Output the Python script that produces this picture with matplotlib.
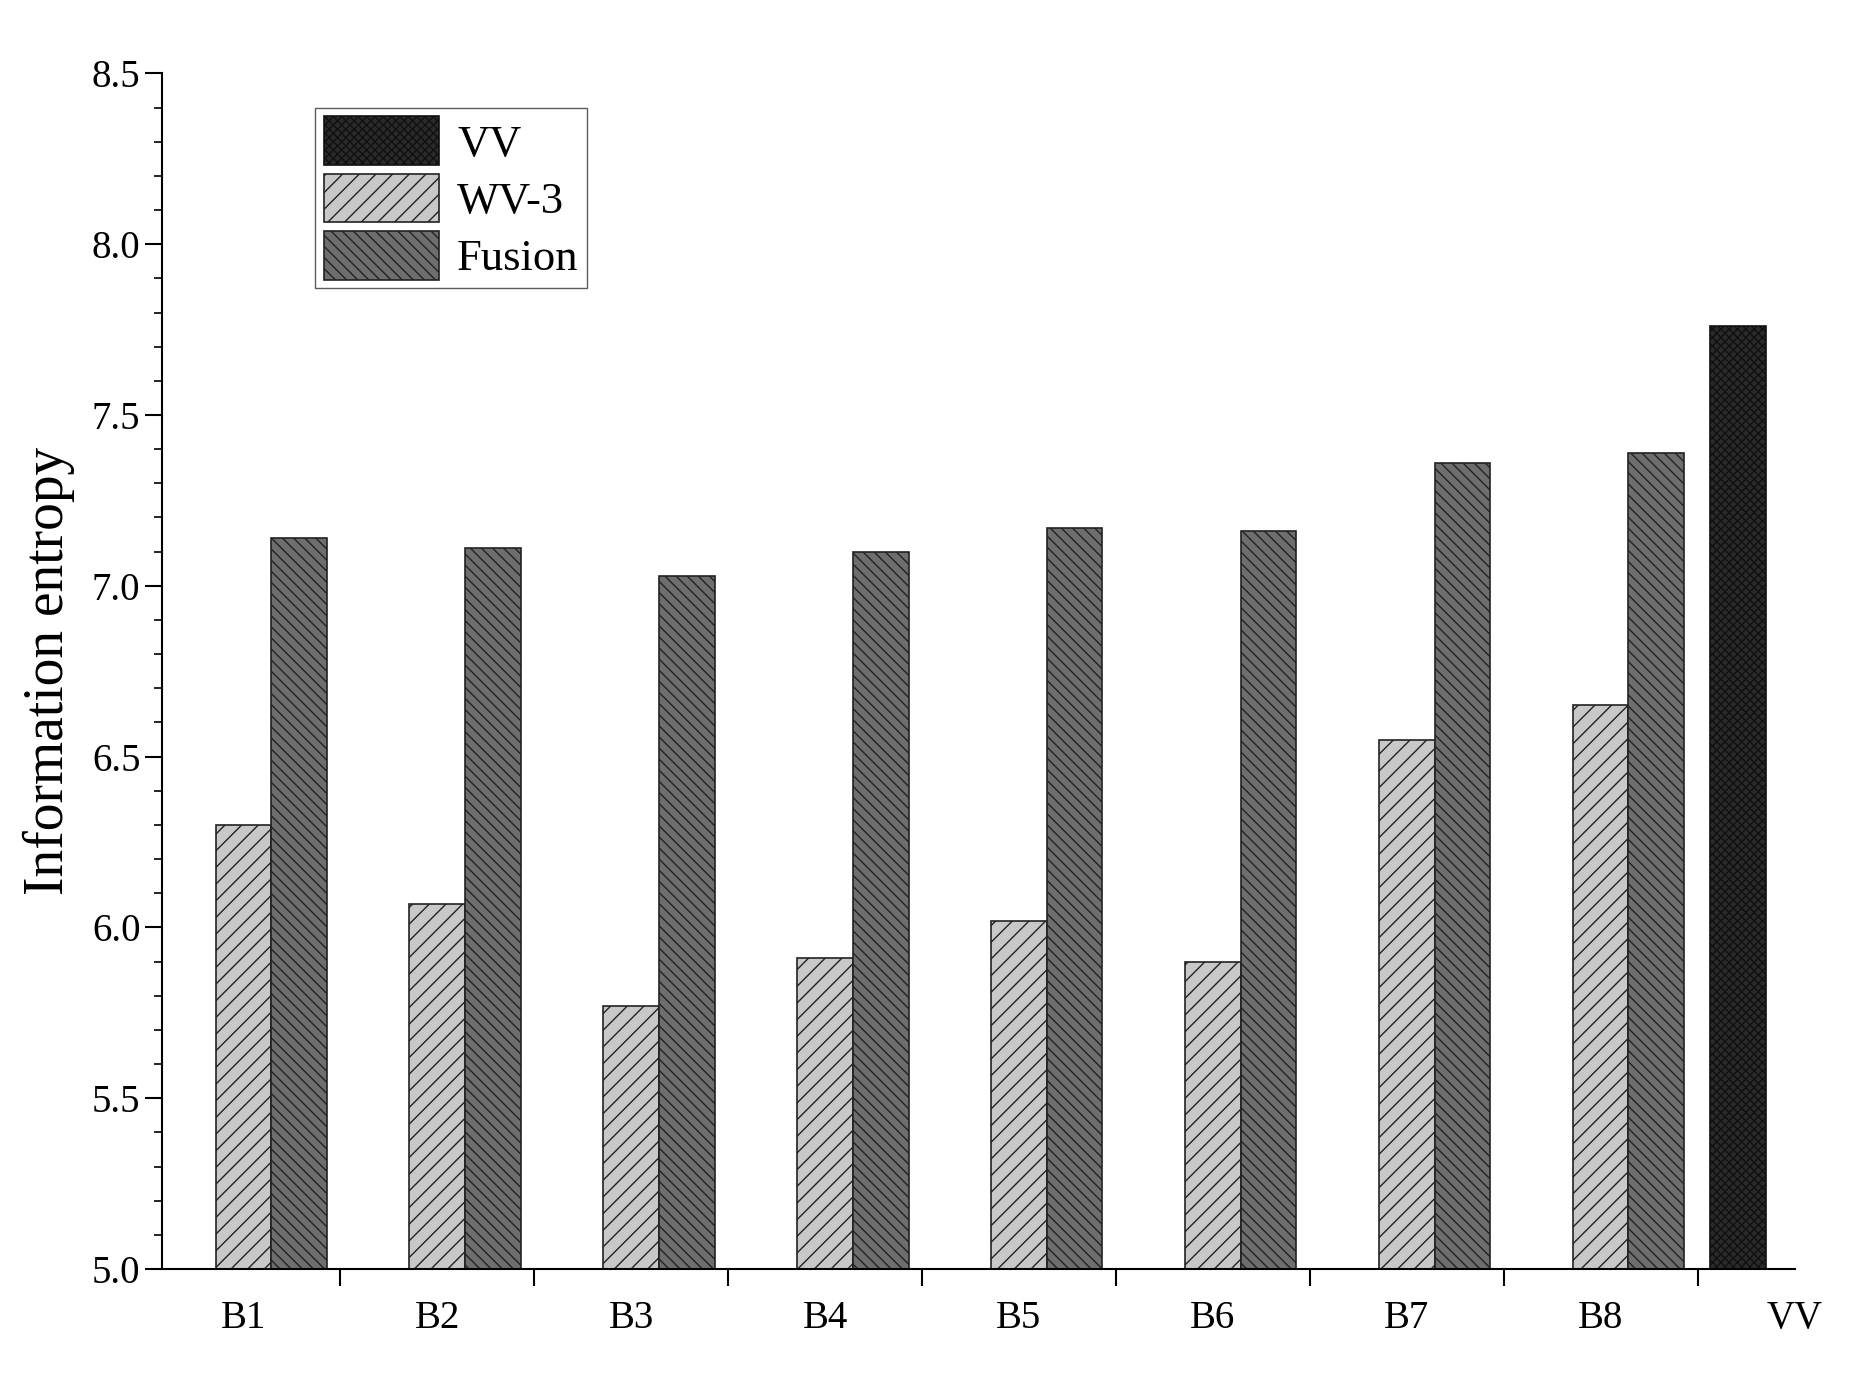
import matplotlib
matplotlib.use("Agg")
import matplotlib.pyplot as plt
import numpy as np

categories = ["B1","B2","B3","B4","B5","B6","B7","B8","VV"]
wv3 = [6.30, 6.07, 5.77, 5.91, 6.02, 5.90, 6.55, 6.65]
fusion = [7.14, 7.11, 7.03, 7.10, 7.17, 7.16, 7.36, 7.39]
vv = [7.76]

plt.rcParams['font.family'] = ['Liberation Serif', 'DejaVu Serif']
plt.rcParams['hatch.linewidth'] = 1.0
fig = plt.figure(figsize=(18.51, 13.84), dpi=100)
ax = fig.add_axes([0.0875, 0.083, 0.882, 0.864])

w = 0.287
x = np.arange(8)
ax.bar(x, [v-5 for v in wv3], w, bottom=5, color='#c8c8c8', edgecolor='#222222', hatch='//', linewidth=1.2, label='WV-3')
ax.bar(x+w, [v-5 for v in fusion], w, bottom=5, color='#6e6e6e', edgecolor='#222222', hatch='\\\\\\', linewidth=1.2, label='Fusion')
ax.bar([7.71], [vv[0]-5], w, bottom=5, color='#2a2a2a', edgecolor='#111111', hatch='xxxx', linewidth=1.2, label='VV')

ax.set_xlim(-0.42, 8.0)
ax.set_ylim(5.0, 8.5)
ax.set_yticks(np.arange(5.0, 8.51, 0.5))
ax.set_yticks(np.arange(5.0, 8.51, 0.1), minor=True)
ax.set_xticks(np.arange(9))
ax.set_xticklabels(categories)
ax.set_xticks(np.arange(0.5, 8.0, 1.0), minor=True)
ax.tick_params(axis='x', which='major', length=0, labelsize=28, pad=22)
ax.tick_params(axis='x', which='minor', length=12, width=1.5)
ax.tick_params(axis='y', which='major', length=12, width=1.5, labelsize=28)
ax.tick_params(axis='y', which='minor', length=6, width=1.2)
ax.set_yticklabels([f"{v:.1f}" for v in np.arange(5.0, 8.51, 0.5)])
for s in ['top','right']:
    ax.spines[s].set_visible(False)
for s in ['left','bottom']:
    ax.spines[s].set_linewidth(1.5)
ax.set_ylabel("Information entropy", fontsize=40, labelpad=12)

h, l = ax.get_legend_handles_labels()
order = [2, 0, 1]
ax.legend([h[i] for i in order], [l[i] for i in order], loc='upper left',
          bbox_to_anchor=(0.08, 0.99), fontsize=32, fancybox=False, edgecolor='#333333',
          handlelength=2.6, handleheight=1.3, borderpad=0.2, labelspacing=0.2, handletextpad=0.4)

fig.savefig("out.png", dpi=100)
